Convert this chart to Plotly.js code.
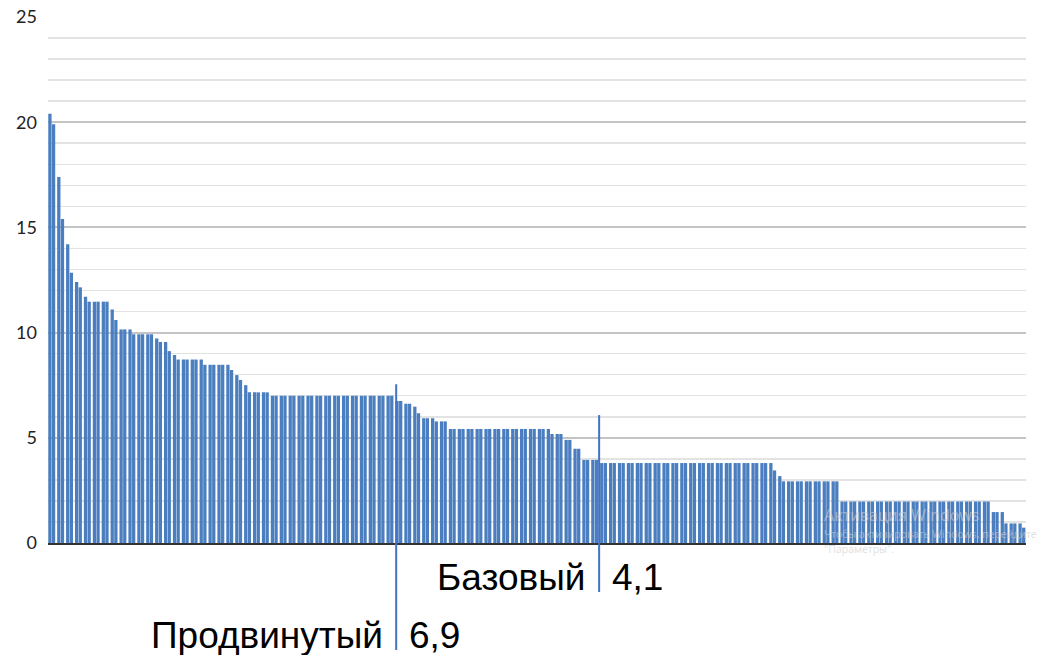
<!DOCTYPE html>
<html><head><meta charset="utf-8">
<script src="https://cdn.plot.ly/plotly-3.0.1.min.js"></script>
<style>html,body{margin:0;padding:0;background:#fff;} #chart{width:1041px;height:655px;}</style>
</head><body><div id="chart"></div>
<script>
// Sorted scores (one value per bar)
const values = [
  20.4, 19.9, 17.4, 15.4, 14.2, 12.85, 12.4, 12.15, 11.7, 11.47,
  11.47, 11.47, 11.47, 11.47, 11.1, 10.6, 10.15, 10.15, 10.15, 9.92,
  9.92, 9.92, 9.92, 9.92, 9.72, 9.55, 9.55, 9.12, 8.93, 8.72,
  8.72, 8.72, 8.72, 8.72, 8.72, 8.47, 8.47, 8.47, 8.47, 8.47,
  8.47, 8.22, 7.98, 7.75, 7.5, 7.16, 7.16, 7.16, 7.16, 7.16,
  7.0, 7.0, 7.0, 7.0, 7.0, 7.0, 7.0, 7.0, 7.0, 7.0,
  7.0, 7.0, 7.0, 7.0, 7.0, 7.0, 7.0, 7.0, 7.0, 7.0,
  7.0, 7.0, 7.0, 7.0, 7.0, 7.0, 7.0, 7.0, 6.75, 6.75,
  6.62, 6.62, 6.48, 6.17, 5.93, 5.93, 5.93, 5.78, 5.78, 5.78,
  5.42, 5.42, 5.42, 5.42, 5.42, 5.42, 5.42, 5.42, 5.42, 5.42,
  5.42, 5.42, 5.42, 5.42, 5.42, 5.42, 5.42, 5.42, 5.42, 5.42,
  5.42, 5.42, 5.42, 5.18, 5.18, 5.18, 4.9, 4.9, 4.48, 4.48,
  3.95, 3.95, 3.95, 3.95, 3.8, 3.8, 3.8, 3.8, 3.8, 3.8,
  3.8, 3.8, 3.8, 3.8, 3.8, 3.8, 3.8, 3.8, 3.8, 3.8,
  3.8, 3.8, 3.8, 3.8, 3.8, 3.8, 3.8, 3.8, 3.8, 3.8,
  3.8, 3.8, 3.8, 3.8, 3.8, 3.8, 3.8, 3.8, 3.8, 3.8,
  3.8, 3.8, 3.8, 3.45, 3.18, 2.93, 2.93, 2.93, 2.93, 2.93,
  2.93, 2.93, 2.93, 2.93, 2.93, 2.93, 2.93, 2.93, 1.97, 1.97,
  1.97, 1.97, 1.97, 1.97, 1.97, 1.97, 1.97, 1.97, 1.97, 1.97,
  1.97, 1.97, 1.97, 1.97, 1.97, 1.97, 1.97, 1.97, 1.97, 1.97,
  1.97, 1.97, 1.97, 1.97, 1.97, 1.97, 1.97, 1.97, 1.97, 1.97,
  1.97, 1.97, 1.47, 1.47, 1.47, 0.93, 0.93, 0.93, 0.93, 0.73
];
const yTicks = [0, 5, 10, 15, 20, 25];
const levelNames = ["Продвинутый", "Базовый"];
const levelLabels = ["6,9", "4,1"];
const levelPos = [38.7, 61.5];        // position along the bar axis (pair index)
const levelTop = [7.55, 6.08];        // top of the marker line (value units)
const levelBottom = [-0.2034, -0.0932]; // bottom of the marker line (paper units)
const levelTextY = [-0.175, -0.0665];   // label centre (paper units)
const watermark = ["Активация Windows", "Чтобы активировать Windows, перейдите", "\"Параметры\"."];

const barColor = '#4a7ebf';
const groups = [], first = [], second = [];
for (let g = 0; g * 2 < values.length; g++) {
  groups.push(g);
  first.push(values[2 * g]);
  second.push(values[2 * g + 1]);
}
const xr = [-0.42, groups.length - 0.54];

const traces = [
  {type: 'bar', x: groups, y: first, marker: {color: barColor}, hoverinfo: 'y'},
  {type: 'bar', x: groups, y: second, marker: {color: barColor}, hoverinfo: 'y'}
];

const shapes = levelPos.map((p, i) => ({
  type: 'line', xref: 'paper', yref: 'paper',
  x0: (p - xr[0]) / (xr[1] - xr[0]), x1: (p - xr[0]) / (xr[1] - xr[0]),
  y0: levelTop[i] / 25, y1: levelBottom[i],
  line: {color: '#4472c4', width: 2}
}));

const annFont = {family: 'Liberation Sans, Arial, sans-serif', size: 37, color: '#000'};
const annotations = [];
levelPos.forEach((p, i) => {
  annotations.push({xref: 'x', yref: 'paper', x: p, y: levelTextY[i], text: levelNames[i],
    showarrow: false, xanchor: 'right', yanchor: 'middle', xshift: -11, font: annFont});
  annotations.push({xref: 'x', yref: 'paper', x: p, y: levelTextY[i], text: levelLabels[i],
    showarrow: false, xanchor: 'left', yanchor: 'middle', xshift: 11, font: annFont});
});
const wmColor = 'rgba(205,205,205,0.6)';
annotations.push({xref: 'paper', yref: 'paper', x: 0.791, y: 0.0532, text: watermark[0], showarrow: false,
  xanchor: 'left', yanchor: 'middle', font: {family: 'Noto Sans, sans-serif', size: 16, color: wmColor}});
annotations.push({xref: 'paper', yref: 'paper', x: 0.791, y: 0.0171, text: watermark[1], showarrow: false,
  xanchor: 'left', yanchor: 'middle', font: {family: 'Noto Sans, sans-serif', size: 10.5, color: wmColor}});
annotations.push({xref: 'paper', yref: 'paper', x: 0.791, y: -0.0114, text: watermark[2], showarrow: false,
  xanchor: 'left', yanchor: 'middle', font: {family: 'Noto Sans, sans-serif', size: 10.5, color: wmColor}});

const layout = {
  width: 1041, height: 655,
  margin: {l: 48, r: 15, t: 17, b: 112},
  paper_bgcolor: '#fff', plot_bgcolor: '#fff',
  showlegend: false,
  barmode: 'group', bargap: 0.18, bargroupgap: 0.1,
  xaxis: {range: xr, showticklabels: false, showgrid: false, zeroline: false,
    showline: true, linecolor: '#333', linewidth: 2, ticks: ''},
  yaxis: {range: [0, 25], tickmode: 'array', tickvals: yTicks, ticktext: yTicks.map(String),
    showgrid: true, gridcolor: '#c4c4c4', gridwidth: 2, zeroline: false, showline: false, ticks: '',
    minor: {dtick: 1, showgrid: true, gridcolor: '#e3e3e3', gridwidth: 1.5},
    ticklabelstandoff: 10,
    tickfont: {family: 'Lato, Liberation Sans, sans-serif', size: 18, color: '#222'}},
  shapes: shapes,
  annotations: annotations
};
Plotly.newPlot('chart', traces, layout, {staticPlot: true, displayModeBar: false});
</script>
</body></html>
